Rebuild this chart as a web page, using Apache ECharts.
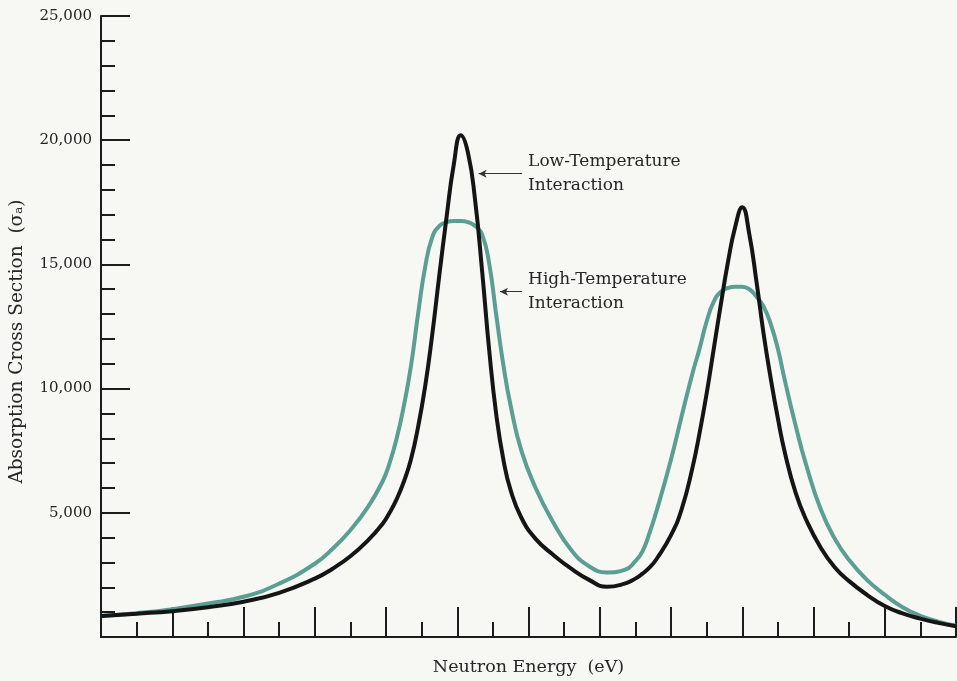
<!DOCTYPE html>
<html>
<head>
<meta charset="UTF-8">
<title>Absorption Cross Section</title>
<script src="https://cdn.jsdelivr.net/npm/echarts@6/dist/echarts.min.js"></script>
<style>
  html, body { margin: 0; padding: 0; background: #f7f8f4; }
  #main { width: 957px; height: 681px; }
</style>
</head>
<body>
<div id="main"></div>
<script type="text/javascript">
// neutron energy, in major-tick units along the x axis (the original has no x labels)
var energy = [0, 0.5, 1, 1.5, 2, 2.5, 3, 3.25, 3.5, 3.75, 3.95, 4.05, 4.15, 4.25, 4.35, 4.45, 4.55, 4.65, 4.75, 4.85, 4.95,
  5.05, 5.15, 5.25, 5.35, 5.45, 5.55, 5.65, 5.75, 5.9, 6.1, 6.35, 6.6, 6.85, 7.1, 7.35, 7.5, 7.6, 7.7, 7.8,
  8, 8.15, 8.3, 8.4, 8.5, 8.6, 8.7, 8.8, 8.9, 9, 9.1, 9.2, 9.3, 9.4, 9.5, 9.6, 9.75, 9.9,
  10.1, 10.3, 10.5, 10.75, 11, 11.25, 11.5, 11.75, 12];

// low-temperature interaction (black)
var lowTemp = [850, 940, 1040, 1200, 1420, 1780, 2350, 2750, 3250, 3900, 4550, 5000, 5550, 6250, 7150, 8450, 10100, 12200, 14600, 16900, 19000,
  20200, 19500, 17600, 14700, 11500, 8900, 7100, 5900, 4800, 3950, 3300, 2750, 2300, 2020, 2150, 2350, 2550, 2800, 3150,
  4100, 5150, 6800, 8200, 9800, 11600, 13400, 15100, 16500, 17300, 16200, 14300, 12200, 10400, 8800, 7400, 5800, 4700,
  3600, 2800, 2250, 1700, 1250, 950, 740, 570, 430];

// high-temperature interaction (teal)
var highTemp = [850, 960, 1120, 1350, 1620, 2150, 2950, 3550, 4300, 5250, 6250, 7000, 8000, 9300, 10900, 13000, 14900, 16100, 16550, 16700, 16750,
  16750, 16700, 16550, 16200, 15000, 12900, 10900, 9300, 7500, 6000, 4600, 3500, 2850, 2600, 2700, 3050, 3450, 4200, 5100,
  7150, 8900, 10600, 11600, 12700, 13500, 13900, 14050, 14100, 14100, 14000, 13700, 13300, 12600, 11600, 10300, 8500, 6900,
  5150, 3950, 3100, 2300, 1700, 1200, 850, 620, 450];

var yTicks = [0, 5000, 10000, 15000, 20000, 25000];

var serif = '"DejaVu Serif", "Liberation Serif", serif';
var ink = '#1c1c1c';

function pairs(ys) {
  var out = [];
  for (var i = 0; i < energy.length; i++) {
    out.push([energy[i], ys[i]]);
  }
  return out;
}

var myChart = echarts.init(document.getElementById('main'), null, { renderer: 'canvas' });

var option = {
  backgroundColor: '#f7f8f4',
  animation: false,
  grid: { left: 101, top: 16, right: 1, bottom: 43 },
  xAxis: {
    type: 'value',
    min: 0,
    max: 12,
    interval: 1,
    name: 'Neutron Energy  (eV)',
    nameLocation: 'middle',
    nameGap: 21,
    nameTextStyle: { fontFamily: serif, fontSize: 17.5, color: '#262626' },
    axisLine: { show: true, lineStyle: { color: ink, width: 2 } },
    axisTick: { show: true, inside: true, length: 30, lineStyle: { color: ink, width: 2 } },
    minorTick: { show: true, splitNumber: 2, length: 15, lineStyle: { color: ink, width: 2 } },
    axisLabel: { show: false },
    splitLine: { show: false }
  },
  yAxis: {
    type: 'value',
    min: yTicks[0],
    max: yTicks[yTicks.length - 1],
    interval: 5000,
    name: 'Absorption Cross Section  (σₐ)',
    nameLocation: 'middle',
    nameGap: 74,
    // right padding nudges the title down, as in the original
    nameTextStyle: { fontFamily: serif, fontSize: 18.5, color: '#262626', padding: [0, 30, 0, 0] },
    axisLine: { show: true, lineStyle: { color: ink, width: 2 } },
    axisTick: { show: true, inside: true, length: 29, lineStyle: { color: ink, width: 2 } },
    minorTick: { show: true, splitNumber: 5, length: 14, lineStyle: { color: ink, width: 2 } },
    axisLabel: {
      margin: 9,
      fontFamily: serif,
      fontSize: 15,
      color: '#222',
      formatter: function (v) {
        return v === 0 ? '' : v.toLocaleString('en-US');
      }
    },
    splitLine: { show: false }
  },
  series: [
    {
      name: 'High-Temperature Interaction',
      type: 'line',
      data: pairs(highTemp),
      smooth: 0.5,
      showSymbol: false,
      lineStyle: { color: '#5a9e94', width: 4 },
      markLine: {
        silent: true,
        symbol: ['arrow', 'none'],
        symbolSize: [6, 8],
        lineStyle: { color: '#333', width: 1, type: 'solid' },
        label: {
          position: 'end',
          distance: 6,
          fontFamily: serif,
          fontSize: 17,
          lineHeight: 24,
          color: '#262626',
          formatter: 'High-Temperature\nInteraction'
        },
        data: [[{ coord: [5.6, 13900] }, { coord: [5.91, 13900] }]]
      }
    },
    {
      name: 'Low-Temperature Interaction',
      type: 'line',
      data: pairs(lowTemp),
      smooth: 0.5,
      showSymbol: false,
      lineStyle: { color: '#151515', width: 4 },
      markLine: {
        silent: true,
        symbol: ['arrow', 'none'],
        symbolSize: [6, 8],
        lineStyle: { color: '#333', width: 1, type: 'solid' },
        label: {
          position: 'end',
          distance: 6,
          padding: [8, 0, 0, 0],
          fontFamily: serif,
          fontSize: 17,
          lineHeight: 24,
          color: '#262626',
          formatter: 'Low-Temperature\nInteraction'
        },
        data: [[{ coord: [5.3, 18650] }, { coord: [5.91, 18650] }]]
      }
    }
  ]
};

myChart.setOption(option);
</script>
</body>
</html>
